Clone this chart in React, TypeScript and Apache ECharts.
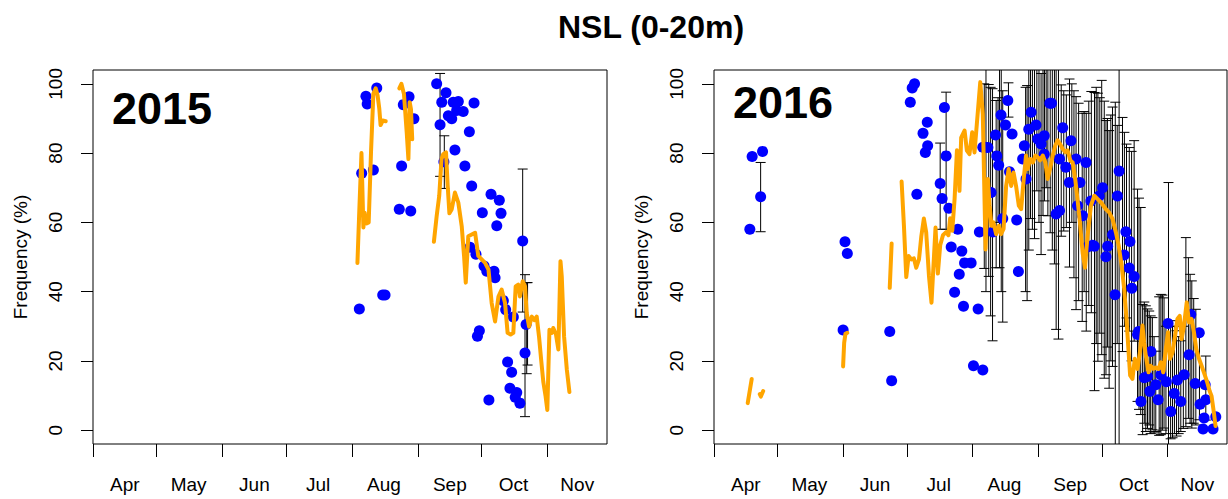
import React, { useEffect, useRef } from "react";
import * as echarts from "echarts";

// x values are days since 1 April of each year
const MONTH_NAMES = ["Apr", "May", "Jun", "Jul", "Aug", "Sep", "Oct", "Nov"];
const MONTH_STARTS = [0, 30, 61, 91, 122, 153, 183, 214];
const MONTH_LABEL_DAYS = [15, 45, 76, 106, 137, 168, 198, 228];
const Y_TICKS = [0, 20, 40, 60, 80, 100];
const X_MIN = 0;
const X_MAX = 242;
const Y_MIN = -4;
const Y_MAX = 104;

const TITLE = "NSL (0-20m)";
const Y_NAME = "Frequency (%)";
const PANEL_LABELS = ["2015", "2016"];

// 2015 observations (day, %)
const POINTS_2015 = [
  [125.4, 35.0], [126.5, 74.2], [128.5, 96.4], [129.1, 94.2], [132.0, 75.1], [133.6, 98.8], [136.4, 39.0], [137.5, 39.0],
  [144.2, 63.8], [145.3, 76.3], [146.1, 94.0], [148.8, 96.3], [149.6, 63.3], [151.1, 89.9],
  [161.8, 100.0], [163.4, 88.2], [164.2, 94.7], [165.2, 77.5], [166.2, 97.4], [167.3, 90.8], [168.9, 89.9], [169.6, 94.7],
  [170.4, 80.9], [171.2, 92.3], [172.0, 94.9], [174.3, 92.0], [175.1, 76.3], [177.2, 86.2], [177.5, 52.8], [178.3, 70.5],
  [179.4, 94.5], [180.3, 50.8], [181.0, 27.1], [181.9, 28.7], [183.3, 62.8], [184.1, 47.4], [185.4, 45.9], [186.4, 8.7],
  [187.4, 68.1], [188.8, 45.9], [189.3, 44.0], [190.1, 59.0], [191.3, 66.4], [192.1, 62.6], [193.2, 37.4], [194.3, 34.8],
  [195.2, 19.7], [196.3, 12.1], [197.1, 16.7], [197.9, 32.7], [198.8, 9.5], [199.5, 10.9], [201.0, 7.8], [202.3, 54.6],
  [203.4, 22.3], [203.9, 30.5],
];

// 2015 error bars (day, low, high)
const ERRORS_2015 = [
  [163.4, 73.3, 103.0], [165.4, 69.8, 85.0], [202.3, 34.1, 75.4], [203.4, 3.9, 44.9], [204.2, 16.3, 42.6], [204.6, 18.8, 42.6],
];

// 2015 smoothed line, broken into segments
const LINE_2015_A = [
  [124.5, 48.3], [125.4, 63.8], [126.4, 80.0], [127.3, 58.5], [127.9, 62.8], [128.8, 59.7], [129.8, 60.0], [130.9, 80.4],
  [132.0, 97.1], [133.1, 98.7], [134.0, 96.6], [134.8, 92.8], [135.4, 88.1], [136.4, 89.4], [137.8, 89.2],
];
const LINE_2015_B = [
  [144.2, 98.7], [145.2, 100.0], [146.4, 97.1], [147.7, 86.0], [148.5, 78.3], [149.1, 94.7], [149.7, 92.7], [150.3, 84.0],
];
const LINE_2015_C = [
  [160.5, 54.4], [161.8, 61.8], [163.0, 67.6], [164.1, 78.3], [164.9, 79.7], [166.2, 80.2], [167.0, 70.5], [167.8, 62.6],
  [168.9, 63.8], [170.4, 68.6], [172.0, 65.7], [173.6, 58.9], [174.7, 50.3], [175.5, 42.6], [176.7, 56.0], [178.3, 56.5],
  [179.9, 57.0], [181.4, 50.3], [183.0, 49.3], [184.6, 48.3], [186.2, 46.4], [187.7, 36.7], [189.3, 31.4], [190.9, 38.6],
  [192.4, 40.6], [194.0, 36.7], [195.2, 28.1], [196.6, 27.6], [197.9, 28.1], [199.0, 41.5], [200.2, 42.0], [201.0, 38.6],
  [202.3, 43.0], [203.4, 41.5], [204.2, 33.8], [205.3, 29.9], [206.6, 32.8], [207.8, 31.8], [208.9, 32.8], [210.0, 27.0],
  [211.0, 20.3], [212.0, 14.0], [213.1, 9.7], [213.9, 5.8], [214.9, 29.0], [216.0, 28.1], [216.7, 29.5], [218.0, 27.6],
  [219.1, 23.3], [220.1, 48.8], [220.7, 44.4], [221.8, 27.0], [223.1, 17.4], [224.3, 11.0],
];

// 2016 observations (day, %)
const POINTS_2016 = [
  [16.9, 58.0], [18.0, 79.0], [22.0, 67.4], [22.9, 80.5],
  [60.9, 28.9], [61.8, 54.4], [62.9, 51.0],
  [82.9, 28.5], [83.8, 14.3],
  [92.6, 94.7], [93.5, 98.8], [94.6, 100.0], [95.7, 68.1], [98.6, 85.7], [99.7, 80.2], [100.6, 88.9], [100.8, 82.1],
  [106.7, 71.2], [107.6, 66.9], [108.7, 93.2], [109.5, 79.2], [110.8, 64.1], [111.9, 52.9], [113.5, 39.8], [115.0, 58.0],
  [115.7, 45.0], [116.9, 51.7], [117.7, 35.8], [118.2, 48.3], [121.3, 48.3],
  [122.4, 18.6], [124.6, 35.0], [125.2, 57.2], [126.8, 17.4],
  [126.8, 81.7], [127.7, 81.7], [129.2, 81.6], [130.7, 68.6], [131.5, 57.2], [132.8, 85.2], [133.4, 79.2], [134.3, 76.5],
  [135.4, 91.0], [136.2, 61.1], [137.5, 88.1], [138.6, 95.2], [139.4, 74.6], [140.6, 85.5], [142.8, 60.7], [143.6, 45.8],
  [145.6, 78.3], [146.4, 82.1], [147.2, 72.5], [148.5, 86.9], [149.6, 91.8], [151.9, 88.1], [152.7, 84.1], [154.3, 82.6],
  [155.8, 85.0], [155.8, 79.7], [158.4, 94.4], [159.2, 94.4], [161.4, 62.4], [163.0, 63.4], [163.0, 78.3], [164.5, 87.3],
  [166.0, 75.9], [167.6, 71.5], [168.4, 83.6], [170.8, 78.3], [171.5, 64.8], [172.6, 71.5], [173.9, 61.9], [175.5, 77.3],
  [176.2, 52.9], [177.8, 66.2], [178.6, 53.4], [179.4, 53.1], [181.7, 67.6], [183.3, 70.0], [184.9, 50.1], [185.7, 53.1],
  [188.0, 56.4], [189.2, 39.1], [190.3, 67.6], [191.1, 74.8], [193.5, 50.6], [194.3, 57.3], [195.9, 46.8], [196.2, 54.5],
  [197.1, 41.0], [198.2, 44.4], [199.8, 27.6], [200.3, 28.5],
  [201.4, 8.3], [203.0, 15.1], [204.5, 15.5], [205.6, 11.2], [206.1, 22.7], [208.4, 13.1], [209.5, 8.8], [210.8, 16.0],
  [213.4, 14.0], [214.2, 30.8], [215.5, 5.4], [217.1, 10.6], [218.6, 14.5], [220.2, 8.3], [221.8, 16.0], [224.1, 21.8],
  [224.9, 33.4], [227.0, 13.5], [228.9, 28.1], [229.3, 7.5], [230.7, 0.3], [231.2, 3.5], [231.7, 13.1], [232.0, 8.8],
  [235.4, 0.3], [236.7, 3.9],
];

// 2016 error bars (day, low, high)
const ERRORS_2016 = [
  [22.0, 57.3, 77.3],
  [106.7, 58.0, 82.9], [109.5, 58.0, 97.6],
  [127.5, 46.7, 100.0], [128.3, 40.0, 110], [129.6, 44.4, 99.8], [130.5, 33.0, 99.0], [131.4, 25.8, 98.6], [133.1, 46.9, 95.2],
  [134.0, 60.0, 96.0], [134.7, 46.9, 110], [135.5, 40.0, 105], [136.2, 31.2, 98.0], [138.9, 90.4, 100.3],
  [147.0, 40.0, 99.0], [147.7, 37.4, 99.5], [148.5, 52.0, 110], [149.3, 61.1, 110], [150.2, 58.0, 110], [151.2, 55.3, 110],
  [152.3, 69.1, 110], [153.3, 60.0, 106], [154.3, 50.7, 103.0], [155.2, 62.0, 110], [155.9, 66.2, 110], [156.7, 70.0, 110],
  [157.5, 61.9, 110], [158.6, 57.0, 108], [159.6, 52.0, 110], [160.6, 48.0, 110], [161.4, 29.1, 110], [162.5, 26.3, 110],
  [163.8, 56.0, 99.7], [165.0, 57.5, 98.0], [166.2, 58.5, 96.8], [167.7, 47.1, 101.4], [168.8, 60.0, 100.0], [169.8, 44.0, 98.0],
  [170.8, 34.8, 96.3], [172.0, 37.4, 94.4], [173.7, 31.4, 91.5], [174.6, 40.0, 92.0], [175.6, 28.6, 91.5], [176.8, 36.0, 95.0],
  [178.0, 33.9, 97.8], [179.5, 11.4, 97.5], [180.3, 25.0, 99.0], [181.1, 19.9, 97.3], [182.0, 28.0, 96.0], [182.9, 21.8, 101.0],
  [184.1, 15.0, 95.0], [184.9, 16.0, 89.4], [185.6, 24.0, 90.0], [186.4, 12.1, 86.5], [187.2, 20.0, 91.0], [188.0, 18.4, 93.3],
  [189.3, -10, 94.7], [190.2, 25.0, 88.0], [191.1, -10, 110], [192.7, 22.7, 90.3], [193.6, 30.0, 86.0], [194.6, 32.4, 82.6],
  [195.9, 28.6, 81.6], [197.0, 20.0, 80.5], [198.2, 25.7, 83.6], [199.8, 8.3, 69.6], [200.5, 6.0, 67.0], [201.3, 4.5, 64.3],
  [202.2, -1.3, 36.3], [203.0, 2.0, 37.0], [203.7, -0.4, 35.9], [204.5, 0.5, 35.0], [205.3, 1.5, 34.4], [206.0, -1.0, 33.0],
  [206.8, 0.1, 32.5], [207.6, -0.8, 27.0], [208.4, -0.4, 22.8], [210.0, -1.5, 38.5], [210.8, -1.3, 39.2], [211.5, 0.0, 39.0],
  [212.3, 0.6, 38.2], [213.2, -1.0, 30.0], [214.4, -10, 71.5], [215.4, -2.5, 30.0], [216.3, -2.2, 31.6], [217.2, -1.0, 30.0],
  [218.2, -1.7, 28.7], [219.2, -1.0, 27.0], [220.2, -0.4, 25.8], [221.4, 0.5, 30.0], [222.6, 1.0, 55.6], [223.8, 3.4, 49.8],
  [224.6, 2.0, 45.0], [225.4, 0.6, 43.1], [226.3, 2.0, 38.0], [227.3, 1.5, 34.9], [229.0, 3.0, 28.0], [232.0, 2.9, 21.4],
];

// 2016 smoothed line, broken into segments
const LINE_2016_A = [[15.9, 7.8], [17.8, 14.8]];
const LINE_2016_B = [[21.6, 10.4], [22.1, 9.7], [23.2, 11.3]];
const LINE_2016_C = [[60.9, 18.4], [61.4, 25.2], [62.0, 27.8], [62.9, 28.1]];
const LINE_2016_D = [[82.9, 41.1], [83.8, 53.9]];
const LINE_2016_E = [
  [88.5, 71.8], [89.6, 59.0], [90.7, 44.2], [91.8, 50.3], [93.1, 49.3], [94.3, 49.6], [95.4, 46.9], [96.7, 49.3],
  [97.8, 56.0], [99.0, 61.1], [100.1, 57.1], [101.4, 44.6], [102.6, 36.8], [103.7, 49.3], [104.5, 58.5], [105.6, 45.2],
  [106.7, 53.4], [108.0, 56.3], [109.5, 57.2], [110.6, 56.3], [111.4, 61.2], [112.4, 57.6], [113.5, 66.8], [114.6, 80.8],
  [115.3, 78.5], [115.8, 69.1], [116.6, 84.5], [118.2, 86.5], [119.3, 80.7], [120.5, 79.7], [121.8, 86.0], [122.9, 80.2],
  [125.6, 100.5], [126.8, 91.3], [128.1, 52.2], [129.2, 72.5], [130.0, 64.8], [130.9, 59.0], [131.8, 60.0], [133.1, 56.6],
  [134.3, 59.0], [135.4, 56.6], [136.6, 58.1], [137.8, 70.5], [139.0, 75.4], [140.2, 70.5], [141.3, 74.4], [142.5, 70.5],
  [143.8, 64.8], [144.9, 63.8], [146.1, 72.5], [147.2, 79.3], [148.0, 75.4], [149.1, 78.3], [150.4, 77.3], [151.6, 79.3],
  [152.7, 78.8], [153.8, 77.9], [155.1, 79.3], [156.3, 77.3], [157.4, 72.5], [158.5, 75.4], [159.8, 79.3], [161.0, 82.2],
  [162.1, 83.7], [163.2, 82.7], [164.5, 81.2], [165.7, 80.3], [166.8, 80.8], [168.1, 77.9], [169.2, 77.3], [170.4, 72.5],
  [171.5, 66.6], [172.6, 60.0], [173.9, 51.2], [175.0, 46.9], [176.2, 56.0], [177.8, 64.8], [179.4, 67.7], [181.0, 66.7],
  [182.5, 65.8], [184.9, 63.8], [186.4, 62.9], [188.0, 61.0], [189.6, 57.1], [190.9, 53.3], [192.3, 47.5], [193.5, 40.8],
  [194.6, 32.1], [195.6, 22.4], [196.3, 15.8], [197.4, 14.8], [198.5, 20.6], [199.8, 17.7], [200.9, 22.4], [202.1, 30.2],
  [202.9, 25.4], [203.7, 21.5], [205.0, 16.7], [206.0, 18.6], [207.3, 17.7], [208.4, 18.1], [209.7, 17.7], [210.8, 19.6],
  [211.9, 16.7], [213.1, 23.4], [214.2, 28.3], [215.1, 20.6], [216.3, 22.4], [217.5, 27.3], [218.6, 32.1], [219.7, 33.0],
  [220.6, 26.3], [221.7, 30.2], [223.0, 36.9], [224.1, 31.1], [225.3, 32.1], [226.4, 28.3], [227.5, 23.4], [228.8, 20.6],
  [230.0, 18.6], [231.1, 16.7], [232.7, 13.8], [233.8, 11.3], [234.7, 9.9], [235.8, 5.1], [236.6, 1.2],
];

const LINES_2015 = [LINE_2015_A, LINE_2015_B, LINE_2015_C];
const LINES_2016 = [LINE_2016_A, LINE_2016_B, LINE_2016_C, LINE_2016_D, LINE_2016_E];

const FONT = "'Liberation Sans', Arial, Helvetica, sans-serif";
const BLUE = "#0000FF";
const ORANGE = "#FFA500";

function buildOption() {
  const grids = [
    { left: 93, top: 70, width: 514, height: 374 },
    { left: 714, top: 70, width: 513, height: 374 },
  ].map((g) => ({ ...g, show: true, borderColor: "#000", borderWidth: 1, backgroundColor: "transparent" }));

  const xAxes = grids.map((_, i) => ({
    type: "value",
    gridIndex: i,
    position: "bottom",
    min: X_MIN,
    max: X_MAX,
    axisLine: { show: false, onZero: false },
    splitLine: { show: false },
    axisTick: { show: true, inside: false, customValues: MONTH_STARTS, length: 13, lineStyle: { color: "#000", width: 1 } },
    axisLabel: {
      customValues: MONTH_LABEL_DAYS,
      formatter: (v: number) => MONTH_NAMES[MONTH_LABEL_DAYS.indexOf(v)] ?? "",
      color: "#000",
      fontSize: 19,
      fontFamily: FONT,
      margin: 31,
    },
  }));

  const yAxes = grids.map((_, i) => ({
    type: "value",
    gridIndex: i,
    position: "left",
    min: Y_MIN,
    max: Y_MAX,
    name: Y_NAME,
    nameLocation: "middle",
    nameRotate: 90,
    nameGap: 63,
    nameTextStyle: { color: "#000", fontSize: 19, fontFamily: FONT },
    axisLine: { show: false, onZero: false },
    splitLine: { show: false },
    axisTick: { show: true, inside: false, customValues: Y_TICKS, length: 12, lineStyle: { color: "#000", width: 1 } },
    axisLabel: {
      customValues: Y_TICKS,
      rotate: 90,
      color: "#000",
      fontSize: 19,
      fontFamily: FONT,
      margin: 28,
    },
  }));

  const errorSeries = (data: number[][], idx: number) => ({
    type: "custom",
    xAxisIndex: idx,
    yAxisIndex: idx,
    clip: true,
    z: 1,
    silent: true,
    data,
    encode: { x: 0, y: [1, 2] },
    renderItem: (params: any, api: any) => {
      const cs = params.coordSys;
      const top = cs.y;
      const bottom = cs.y + cs.height;
      const x = api.value(0);
      const lo = api.coord([x, api.value(1)]);
      const hi = api.coord([x, api.value(2)]);
      const yLo = Math.min(Math.max(lo[1], top), bottom);
      const yHi = Math.min(Math.max(hi[1], top), bottom);
      const w = 5;
      const style = { stroke: "#000", lineWidth: 1, fill: "none" };
      const children: any[] = [
        { type: "line", shape: { x1: lo[0], y1: yLo, x2: hi[0], y2: yHi }, style },
      ];
      if (lo[1] <= bottom) children.push({ type: "line", shape: { x1: lo[0] - w, y1: lo[1], x2: lo[0] + w, y2: lo[1] }, style });
      if (hi[1] >= top) children.push({ type: "line", shape: { x1: hi[0] - w, y1: hi[1], x2: hi[0] + w, y2: hi[1] }, style });
      return { type: "group", children };
    },
  });

  const scatterSeries = (data: number[][], idx: number) => ({
    type: "scatter",
    xAxisIndex: idx,
    yAxisIndex: idx,
    data,
    symbol: "circle",
    symbolSize: 11,
    itemStyle: { color: BLUE, opacity: 1 },
    z: 2,
    silent: true,
  });

  const lineSeries = (data: number[][], idx: number) => ({
    type: "line",
    xAxisIndex: idx,
    yAxisIndex: idx,
    data,
    showSymbol: false,
    symbol: "none",
    lineStyle: { color: ORANGE, width: 4, cap: "round", join: "round" },
    z: 3,
    silent: true,
    clip: true,
  });

  const series: any[] = [
    errorSeries(ERRORS_2015, 0),
    scatterSeries(POINTS_2015, 0),
    ...LINES_2015.map((d) => lineSeries(d, 0)),
    errorSeries(ERRORS_2016, 1),
    scatterSeries(POINTS_2016, 1),
    ...LINES_2016.map((d) => lineSeries(d, 1)),
  ];

  return {
    animation: false,
    backgroundColor: "#fff",
    grid: grids,
    xAxis: xAxes,
    yAxis: yAxes,
    series,
    graphic: [
      {
        type: "text",
        x: 651,
        y: 27,
        style: { text: TITLE, align: "center", verticalAlign: "middle", fontSize: 32, fontWeight: "bold", fontFamily: FONT, fill: "#000" },
      },
      {
        type: "text",
        x: 112,
        y: 108,
        style: { text: PANEL_LABELS[0], align: "left", verticalAlign: "middle", fontSize: 45, fontWeight: "bold", fontFamily: FONT, fill: "#000" },
      },
      {
        type: "text",
        x: 733,
        y: 102,
        style: { text: PANEL_LABELS[1], align: "left", verticalAlign: "middle", fontSize: 45, fontWeight: "bold", fontFamily: FONT, fill: "#000" },
      },
    ],
  };
}

export default function App() {
  const ref = useRef<HTMLDivElement>(null);
  useEffect(() => {
    if (!ref.current) return;
    const chart = echarts.init(ref.current, undefined, { renderer: "svg" });
    chart.setOption(buildOption() as any);
    return () => chart.dispose();
  }, []);
  return (
    <div
      ref={ref}
      style={{ position: "fixed", left: 0, top: 0, width: 1228, height: 499, background: "#fff" }}
    />
  );
}
